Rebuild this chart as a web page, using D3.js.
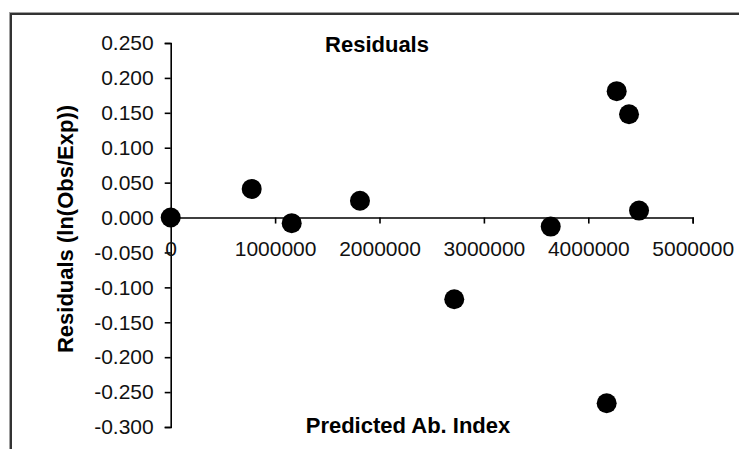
<!DOCTYPE html>
<html>
<head>
<meta charset="utf-8">
<script src="https://cdn.jsdelivr.net/npm/d3@7"></script>
<style>
  body { margin: 0; background: white; }
  text { font-family: "Liberation Sans", Arial, sans-serif; }
</style>
</head>
<body>
<div id="container"></div>
<script>
let w = 739;
let h = 449;

// data
let predicted = [0, 776000, 1159000, 1813000, 2716000, 3640000, 4272000, 4390000, 4486000, 4176000];
let residuals = [0.000, 0.041, -0.008, 0.024, -0.117, -0.013, 0.181, 0.148, 0.010, -0.266];
let xTicks = [0, 1000000, 2000000, 3000000, 4000000, 5000000];
let yTicks = [0.25, 0.2, 0.15, 0.1, 0.05, 0, -0.05, -0.1, -0.15, -0.2, -0.25, -0.3];
let points = predicted.map(function(d, i) { return {x: d, y: residuals[i]}; });

let viz = d3.select("#container").append("svg")
    .attr("width", w)
    .attr("height", h)
    .style("background-color", "white")
;

// chart frame (cut off at right and bottom)
viz.append("rect")
    .attr("x", 9.5).attr("y", 12.5)
    .attr("width", 760).attr("height", 470)
    .attr("fill", "none")
    .attr("stroke", "#a0a0a0")
    .attr("stroke-width", 1)
;
viz.append("rect")
    .attr("x", 11).attr("y", 14)
    .attr("width", 760).attr("height", 470)
    .attr("fill", "white")
    .attr("stroke", "#333")
    .attr("stroke-width", 2)
;

let xScale = d3.scaleLinear().domain([0, 5000000]).range([170.7, 692.7]);
let yScale = d3.scaleLinear().domain([-0.3, 0.25]).range([427, 43]);

// y axis
let yAxis = d3.axisLeft(yScale)
    .tickValues(yTicks)
    .tickFormat(function(d) { return d.toFixed(3); })
    .tickSizeInner(6)
    .tickSizeOuter(6)
    .tickPadding(11)
;
let yG = viz.append("g")
    .attr("transform", "translate(" + xScale(0) + ",0)")
    .call(yAxis)
;

// x axis crossing at zero
let xAxis = d3.axisBottom(xScale)
    .tickValues(xTicks)
    .tickFormat(d3.format("d"))
    .tickSizeInner(6)
    .tickSizeOuter(6)
    .tickPadding(18)
;
let xG = viz.append("g")
    .attr("transform", "translate(0," + yScale(0) + ")")
    .call(xAxis)
;

viz.selectAll(".domain, .tick line")
    .attr("stroke", "black")
    .attr("stroke-width", 1.6)
;
yG.selectAll("text").attr("font-size", 21).attr("fill", "#111");
xG.selectAll("text").attr("font-size", 21).attr("fill", "#111");
viz.selectAll(".tick text").style("font-family", "'Liberation Sans', Arial, sans-serif");

// points
viz.append("g").selectAll(".dot").data(points).enter()
  .append("circle")
    .attr("class", "dot")
    .attr("cx", function(d) { return xScale(d.x); })
    .attr("cy", function(d) { return yScale(d.y); })
    .attr("r", 10)
    .attr("fill", "black")
;

// titles
viz.append("text")
    .text("Residuals")
    .attr("x", 377)
    .attr("y", 52)
    .attr("text-anchor", "middle")
    .attr("font-size", 22)
    .attr("font-weight", "bold")
;
viz.append("text")
    .text("Predicted Ab. Index")
    .attr("x", 408)
    .attr("y", 433)
    .attr("text-anchor", "middle")
    .attr("font-size", 22)
    .attr("font-weight", "bold")
;
viz.append("text")
    .text("Residuals (ln(Obs/Exp))")
    .attr("transform", "translate(73,229) rotate(-90)")
    .attr("text-anchor", "middle")
    .attr("font-size", 22)
    .attr("font-weight", "bold")
;
</script>
</body>
</html>
